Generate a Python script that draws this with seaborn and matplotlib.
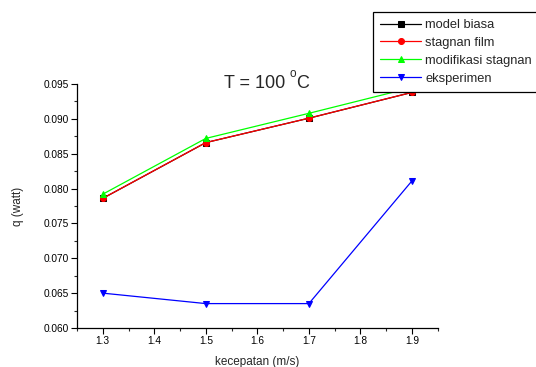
import matplotlib
matplotlib.use("Agg")
import matplotlib.pyplot as plt
import seaborn as sns
import pandas as pd
from matplotlib.ticker import MultipleLocator

kecepatan = [1.3, 1.5, 1.7, 1.9]
model_biasa = [0.0786, 0.0866, 0.0901, 0.0938]
stagnan_film = [0.0786, 0.0866, 0.0901, 0.0938]
modifikasi_stagnan = [0.0792, 0.0872, 0.0908, 0.0945]
eksperimen = [0.0650, 0.0635, 0.0635, 0.0811]

series_names = ["model biasa", "stagnan film", "modifikasi stagnan", "eksperimen"]
series_vals = [model_biasa, stagnan_film, modifikasi_stagnan, eksperimen]
colors = ["#000000", "#ff0000", "#00ff00", "#0000ff"]
markers = ["s", "o", "^", "v"]

sns.set_theme(style="ticks")
plt.rcParams['font.family'] = ['Liberation Sans', 'DejaVu Sans']

fig = plt.figure(figsize=(5.36, 3.67), dpi=100)
ax = fig.add_axes([0.1437, 0.1063, 0.8166 - 0.1437, 0.771 - 0.1063])

for name, vals, c, m in zip(series_names, series_vals, colors, markers):
    df = pd.DataFrame({"x": kecepatan, "y": vals})
    sns.lineplot(data=df, x="x", y="y", ax=ax, color=c, marker=m,
                 markersize=4.3, markeredgecolor=c, linewidth=0.9, label=name,
                 legend=False)

ax.set_xlim(1.25, 1.95)
ax.set_ylim(0.060, 0.095)
ax.xaxis.set_major_locator(MultipleLocator(0.1))
ax.xaxis.set_minor_locator(MultipleLocator(0.05))
ax.yaxis.set_major_locator(MultipleLocator(0.005))
ax.yaxis.set_minor_locator(MultipleLocator(0.0025))
ax.xaxis.set_major_formatter(matplotlib.ticker.FormatStrFormatter('%.1f'))
ax.yaxis.set_major_formatter(matplotlib.ticker.FormatStrFormatter('%.3f'))
ax.tick_params(axis='both', which='major', length=4, width=0.8, labelsize=7.3,
               direction='out', colors='black', pad=2)
ax.tick_params(axis='both', which='minor', length=2.5, width=0.8, direction='out')
for s in ["top", "right"]:
    ax.spines[s].set_visible(False)
for s in ["left", "bottom"]:
    ax.spines[s].set_linewidth(0.9)
    ax.spines[s].set_color("black")

ax.set_xlabel("kecepatan (m/s)", fontsize=8.5, labelpad=7)
ax.set_ylabel("q (watt)", fontsize=8.5, labelpad=14)

fig.text(224 / 536, 1 - 83 / 367, "T = 100", fontsize=13, ha="left", va="center")
fig.text(290 / 536, 1 - 74 / 367, "o", fontsize=8.5, ha="left", va="center")
fig.text(296 / 536, 1 - 83 / 367, "C", fontsize=13, ha="left", va="center")

h, l = ax.get_legend_handles_labels()
leg = fig.legend(h, l, loc="upper left", bbox_to_anchor=(373 / 536, 1 - 12 / 367),
                 fontsize=9.3, frameon=True, fancybox=False, framealpha=1,
                 edgecolor="black", handlelength=3.2, handletextpad=0.3,
                 borderpad=0.55, labelspacing=0.45, borderaxespad=0)
leg.get_frame().set_linewidth(0.9)

fig.savefig("out.png", dpi=100)
